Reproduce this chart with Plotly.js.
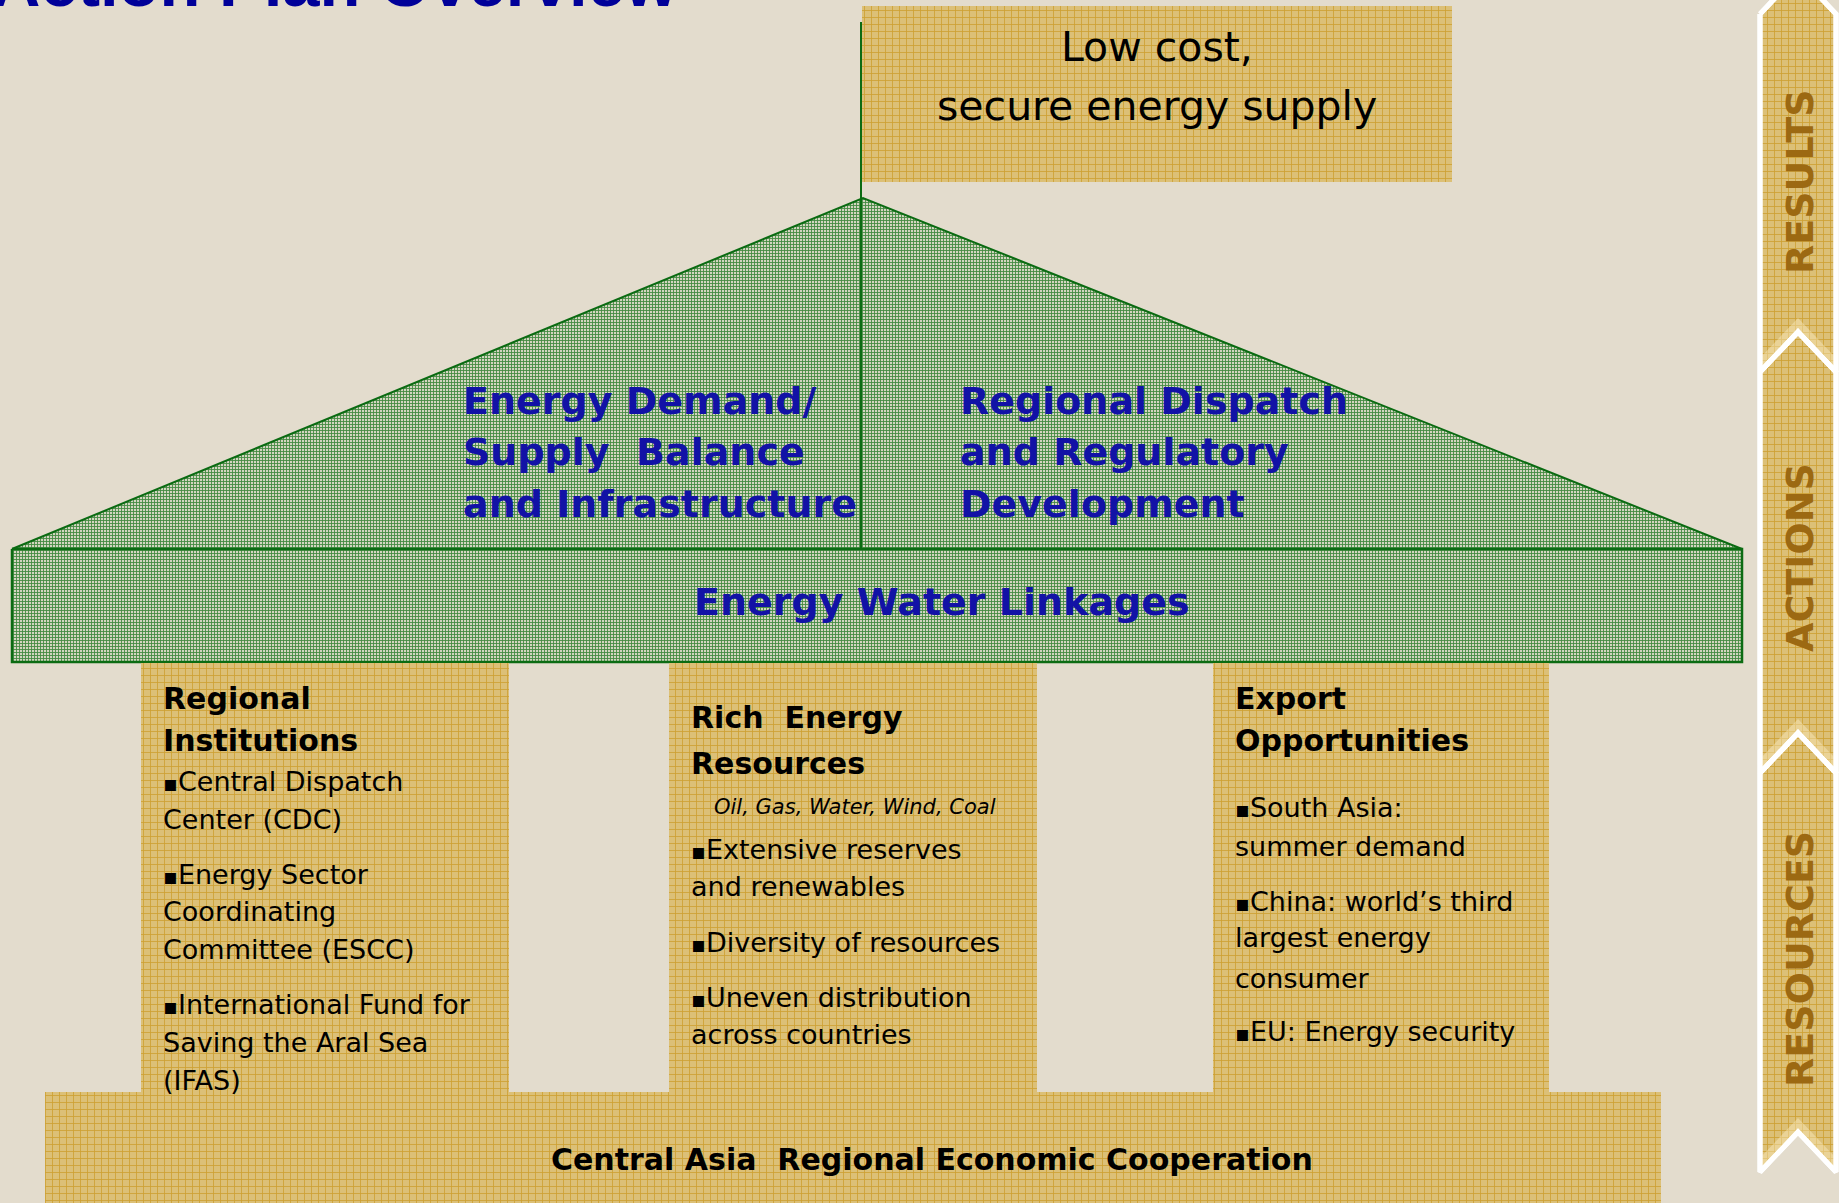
<!DOCTYPE html>
<html><head><meta charset="utf-8">
<script src="https://cdn.plot.ly/plotly-3.0.1.min.js"></script>
<style>html,body{margin:0;padding:0;background:#e3dccd;overflow:hidden}#chart{width:1839px;height:1203px}</style>
</head><body><div id="chart"></div>
<script>
// ---- content (text) ----
const pageTitle = 'Action Plan Overview';
const goalLines = ['Low cost,', 'secure energy supply'];
const roofLeftLines = ['Energy Demand/', 'Supply\u00a0 Balance', 'and Infrastructure'];
const roofRightLines = ['Regional Dispatch', 'and Regulatory', 'Development'];
const bandLabel = 'Energy Water Linkages';
const pillarHeadings = [['Regional', 'Institutions'], ['Rich\u00a0 Energy', 'Resources'], ['Export', 'Opportunities']];
const resourceTypes = 'Oil, Gas, Water, Wind, Coal';
const institutionBullets = ['\u25aaCentral Dispatch', 'Center (CDC)', '\u25aaEnergy Sector', 'Coordinating', 'Committee (ESCC)', '\u25aaInternational Fund for', 'Saving the Aral Sea', '(IFAS)'];
const resourceBullets = ['\u25aaExtensive reserves', 'and renewables', '\u25aaDiversity of resources', '\u25aaUneven distribution', 'across countries'];
const exportBullets = ['\u25aaSouth Asia:', 'summer demand', '\u25aaChina: world\u2019s third', 'largest energy', 'consumer', '\u25aaEU: Energy security'];
const foundationLabel = 'Central Asia\u00a0 Regional Economic Cooperation';
const stageLabels = ['RESULTS', 'ACTIONS', 'RESOURCES'];

// ---- geometry / style (pixel space of the axes) ----
const W = 1839, H = 1203;
const BEIGE = '#e3dccd', BLUE = '#1212a6', GREEN_LINE = '#0b6b12', BROWN = '#9c6912';
const GOLD_BG = '#dcc077';
const goldPattern = {shape: '+', size: 7, solidity: 0.22, fgcolor: 'rgba(200,146,20,0.7)', bgcolor: GOLD_BG, fillmode: 'replace'};
const greenPattern = {shape: '+', size: 3, solidity: 0.5, fgcolor: 'rgba(50,130,50,0.9)', bgcolor: '#d3d5c0', fillmode: 'replace'};

function poly(xs, ys, pattern, fillcolor, lineColor, lineWidth) {
  return {type: 'scatter', mode: 'lines', x: xs, y: ys, fill: 'toself', fillcolor: fillcolor,
    fillpattern: pattern, line: {color: lineColor || 'rgba(0,0,0,0)', width: lineWidth || 0},
    hoverinfo: 'skip', showlegend: false};
}
function rect(x0, y0, x1, y1, pattern, fc, lc, lw) {
  return poly([x0, x1, x1, x0, x0], [y0, y0, y1, y1, y0], pattern, fc, lc, lw);
}

const traces = [];
// goal box
traces.push(rect(862, 6, 1452, 182, goldPattern, GOLD_BG));
// roof
traces.push(poly([12, 863, 1742, 12], [549, 198, 549, 549], greenPattern, '#b9c6aa', GREEN_LINE, 2));
// band
traces.push(rect(12, 549, 1742, 662, greenPattern, '#b9c6aa', GREEN_LINE, 2.5));
// pillars
const pillarX = [[141, 509], [669, 1037], [1213, 1549]];
pillarX.forEach(p => traces.push(rect(p[0], 663, p[1], 1092, goldPattern, GOLD_BG)));
// foundation
traces.push(rect(45, 1092, 1661, 1210, goldPattern, GOLD_BG));
// side stage strip
const apex = [-26, 332, 733, 1132];
const sL = 1760, sR = 1836, sC = 1798, drop = 40;
for (let i = 0; i < 3; i++) {
  const a = apex[i], b = apex[i + 1];
  traces.push(poly([sL, sC, sR, sR, sC, sL, sL], [a + drop, a, a + drop, b + drop, b, b + drop, a + drop],
    goldPattern, GOLD_BG, '#ffffff', 5));
  traces.push(poly([sL, sC, sR, sR, sC, sL], [b + drop - 14, b - 14, b + drop - 14, b + drop, b, b + drop],
    null, 'rgba(250,236,190,0.45)', 'rgba(0,0,0,0)', 0));
}
for (let i = 0; i < 3; i++) {
  const a = apex[i], b = apex[i + 1];
  traces.push({type: 'scatter', mode: 'lines', x: [sL, sC, sR, sR, sC, sL, sL], y: [a + drop, a, a + drop, b + drop, b, b + drop, a + drop],
    line: {color: '#ffffff', width: 5}, hoverinfo: 'skip', showlegend: false});
}

const shapes = [
  {type: 'line', xref: 'x', yref: 'y', x0: 861, x1: 861, y0: 22, y1: 549, line: {color: GREEN_LINE, width: 2}}
];

const ann = [];
function smallBullet(s) {
  return s.replace('\u25aa', '<span style="font-size:22px">\u25aa</span>');
}
function txt(x, y, text, size, o) {
  o = o || {};
  ann.push({xref: 'x', yref: 'y', x: x, y: y, text: text, showarrow: false,
    xanchor: o.xanchor || 'left', yanchor: o.yanchor || 'middle', textangle: o.angle || 0,
    font: {family: o.family || 'DejaVu Sans', size: size, color: o.color || '#000000',
      weight: o.bold ? 700 : 400, style: o.italic ? 'italic' : 'normal'}});
}
// title (cut off at the top, as in the original slide)
txt(680, 22, pageTitle, 67, {xanchor: 'right', yanchor: 'bottom', bold: true, color: '#000099', family: 'Liberation Sans, Arial, sans-serif'});
// goal
[47, 106].forEach((y, i) => txt(1157, y, goalLines[i], 41, {xanchor: 'center'}));
// roof
[401, 452, 504].forEach((y, i) => {
  txt(461, y, roofLeftLines[i], 38, {bold: true, color: BLUE});
  txt(958, y, roofRightLines[i], 38, {bold: true, color: BLUE});
});
txt(942, 602, bandLabel, 38, {bold: true, color: BLUE, xanchor: 'center'});
// pillars
const headY = [[698, 740], [717, 763], [698, 740]];
const textX = [161, 689, 1233];
headY.forEach((ys, p) => ys.forEach((y, i) => txt(textX[p], y, pillarHeadings[p][i], 30, {bold: true})));
txt(855, 807, resourceTypes, 21, {italic: true, xanchor: 'center'});
[781, 819, 874, 911, 949, 1004, 1042, 1080].forEach((y, i) => txt(textX[0], y, smallBullet(institutionBullets[i]), 27));
[849, 886, 942, 997, 1034].forEach((y, i) => txt(textX[1], y, smallBullet(resourceBullets[i]), 27));
[807, 846, 901, 937, 978, 1031].forEach((y, i) => txt(textX[2], y, smallBullet(exportBullets[i]), 27));
// foundation
txt(932, 1159, foundationLabel, 30, {bold: true, xanchor: 'center'});
// stage labels
[182, 558, 959].forEach((y, i) => txt(1800, y, stageLabels[i], 38, {bold: true, color: BROWN, angle: -90, xanchor: 'center'}));

const layout = {
  width: W, height: H, margin: {l: 0, r: 0, t: 0, b: 0, pad: 0},
  paper_bgcolor: BEIGE, plot_bgcolor: BEIGE, showlegend: false,
  xaxis: {range: [0, W], visible: false, fixedrange: true, autorange: false},
  yaxis: {range: [H, 0], visible: false, fixedrange: true, autorange: false},
  shapes: shapes, annotations: ann, hovermode: false
};
Plotly.newPlot('chart', traces, layout, {staticPlot: true, displayModeBar: false});
</script>
</body></html>
